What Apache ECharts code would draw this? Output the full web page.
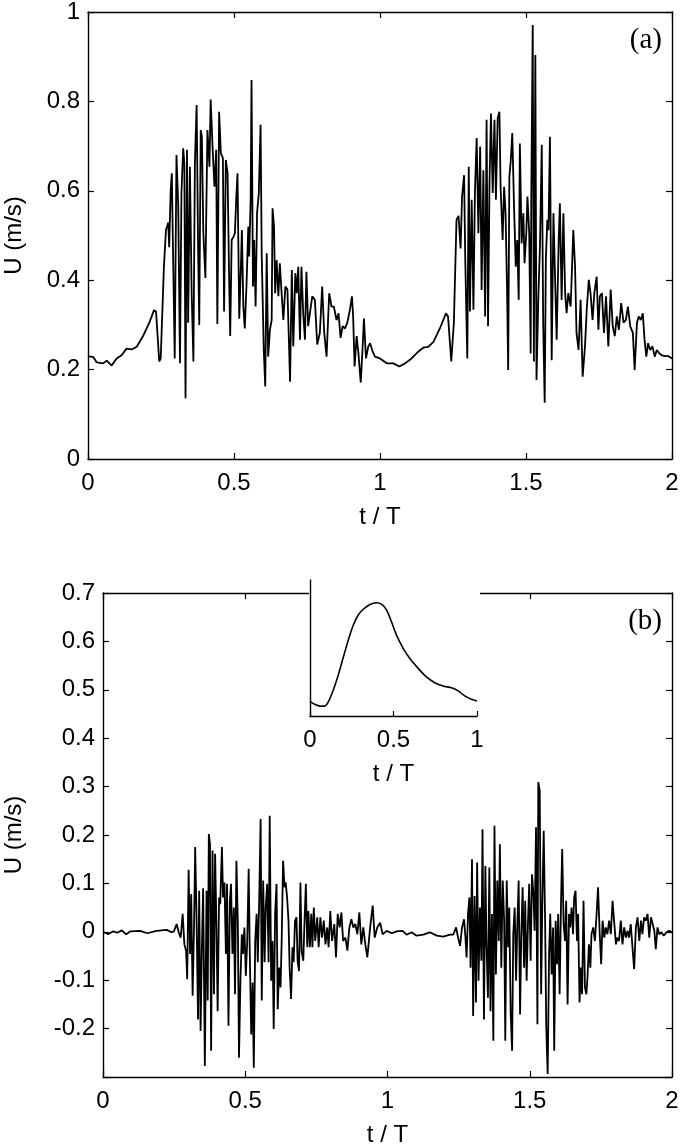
<!DOCTYPE html>
<html>
<head>
<meta charset="utf-8">
<script src="https://cdn.jsdelivr.net/npm/echarts@6/dist/echarts.min.js"></script>
<style>
html,body{margin:0;padding:0;background:#fff;}
#chart{width:680px;height:1148px;}
</style>
</head>
<body>
<div id="chart"></div>
<script>
// ---- data ----
const xTicks = [0, 0.5, 1, 1.5, 2];
const yTicksA = [0, 0.2, 0.4, 0.6, 0.8, 1];
const yTicksB = [-0.3, -0.2, -0.1, 0, 0.1, 0.2, 0.3, 0.4, 0.5, 0.6, 0.7];
const insetTicks = [0, 0.5, 1];

// Panel (a): instantaneous velocity U (m/s) vs t/T
const seriesA = [
[0,.230],[.018,.228],[.030,.216],[.052,.214],[.064,.220],[.081,.209],[.098,.225],[.115,.232],[.132,.247],[.149,.245],
[.167,.251],[.190,.277],[.210,.305],[.226,.333],[.233,.330],[.244,.218],[.249,.225],[.260,.430],[.267,.512],[.275,.529],
[.278,.474],[.283,.598],[.287,.639],[.292,.430],[.297,.225],[.303,.680],[.309,.565],[.315,.214],[.320,.595],[.326,.695],
[.330,.661],[.334,.136],[.339,.692],[.343,.305],[.349,.654],[.355,.371],[.361,.218],[.366,.661],[.372,.792],[.377,.474],
[.381,.300],[.386,.736],[.390,.721],[.395,.505],[.402,.405],[.409,.736],[.416,.654],[.420,.804],[.427,.692],[.433,.609],
[.439,.692],[.443,.302],[.449,.777],[.455,.684],[.462,.673],[.466,.330],[.472,.669],[.478,.639],[.483,.416],[.487,.275],
[.492,.490],[.498,.497],[.503,.505],[.508,.587],[.512,.639],[.518,.314],[.523,.416],[.527,.512],[.532,.341],[.537,.292],
[.543,.393],[.549,.520],[.552,.453],[.557,.580],[.560,.848],[.565,.386],[.569,.490],[.574,.341],[.579,.550],[.585,.595],
[.591,.748],[.595,.453],[.602,.244],[.607,.162],[.612,.460],[.617,.229],[.623,.289],[.629,.311],[.632,.561],[.637,.520],
[.641,.371],[.646,.445],[.652,.364],[.657,.438],[.663,.371],[.669,.311],[.676,.386],[.683,.379],[.692,.173],[.698,.423],
[.703,.252],[.710,.416],[.715,.371],[.720,.430],[.726,.267],[.731,.430],[.737,.326],[.743,.267],[.748,.419],[.754,.297],
[.760,.326],[.768,.364],[.777,.356],[.785,.256],[.794,.282],[.802,.386],[.809,.282],[.817,.229],[.826,.371],[.834,.341],
[.842,.341],[.851,.311],[.858,.326],[.865,.271],[.872,.297],[.880,.292],[.888,.305],[.897,.334],[.904,.364],[.908,.319],
[.913,.207],[.920,.275],[.926,.238],[.934,.171],[.940,.244],[.945,.314],[.952,.225],[.960,.252],[.966,.259],[.972,.262],
[.975,.240],[.983,.229],[1.000,.225],[1.023,.214],[1.046,.214],[1.066,.207],[1.086,.214],[1.108,.225],[1.131,.240],[1.148,.249],
[1.165,.251],[1.183,.262],[1.205,.292],[1.226,.326],[1.233,.319],[1.244,.218],[1.253,.305],[1.262,.535],[1.269,.544],[1.276,.471],
[1.281,.587],[1.288,.635],[1.292,.445],[1.299,.225],[1.304,.654],[1.308,.330],[1.314,.580],[1.320,.334],[1.325,.595],[1.331,.718],
[1.337,.505],[1.343,.699],[1.348,.378],[1.354,.646],[1.360,.319],[1.365,.759],[1.370,.297],[1.375,.617],[1.380,.773],[1.386,.595],
[1.392,.759],[1.397,.580],[1.403,.762],[1.409,.777],[1.413,.609],[1.420,.490],[1.425,.609],[1.430,.550],[1.435,.386],[1.439,.199],
[1.443,.631],[1.448,.669],[1.453,.729],[1.459,.565],[1.465,.430],[1.470,.490],[1.475,.356],[1.479,.706],[1.485,.482],[1.491,.550],
[1.495,.438],[1.501,.505],[1.505,.587],[1.511,.505],[1.516,.236],[1.518,.580],[1.523,.971],[1.527,.218],[1.532,.904],[1.536,.177],
[1.542,.356],[1.548,.482],[1.554,.703],[1.559,.297],[1.564,.126],[1.568,.445],[1.573,.535],[1.577,.512],[1.582,.721],[1.588,.221],
[1.594,.550],[1.600,.393],[1.605,.267],[1.612,.490],[1.616,.572],[1.622,.356],[1.628,.550],[1.634,.371],[1.639,.326],[1.645,.371],
[1.653,.341],[1.662,.512],[1.668,.430],[1.673,.282],[1.680,.244],[1.687,.356],[1.694,.184],[1.702,.252],[1.708,.334],[1.715,.401],
[1.721,.371],[1.728,.311],[1.734,.371],[1.742,.408],[1.748,.289],[1.753,.364],[1.760,.371],[1.767,.282],[1.774,.364],[1.782,.252],
[1.790,.379],[1.797,.297],[1.804,.275],[1.811,.319],[1.818,.289],[1.826,.349],[1.834,.305],[1.842,.311],[1.849,.341],[1.857,.297],
[1.866,.282],[1.872,.199],[1.880,.305],[1.886,.319],[1.893,.311],[1.900,.326],[1.906,.267],[1.912,.229],[1.918,.259],[1.925,.244],
[1.933,.252],[1.941,.229],[1.948,.244],[1.957,.236],[1.965,.232],[1.976,.230],[1.988,.230],[2.000,.225]
];

// Panel (b): fluctuating velocity U (m/s) vs t/T
const seriesB = [
[0,0],[.018,-.005],[.036,.001],[.050,-.002],[.066,.003],[.081,-.005],[.097,.001],[.130,.002],[.156,-.003],[.188,.002],
[.224,.004],[.241,-.001],[.249,.001],[.259,.016],[.266,-.001],[.273,-.012],[.280,.037],[.286,-.026],[.292,-.039],[.296,-.098],
[.301,.128],[.306,-.046],[.310,.078],[.315,-.132],[.320,.009],[.324,.175],[.329,.023],[.334,-.181],[.338,.085],[.343,-.205],
[.348,-.019],[.352,.090],[.358,-.277],[.364,.085],[.368,-.142],[.372,.202],[.376,.181],[.380,-.246],[.385,.168],[.390,-.129],
[.394,.161],[.399,.002],[.403,-.164],[.408,.071],[.412,.057],[.418,.175],[.422,.071],[.427,.102],[.432,-.046],[.436,.099],
[.441,-.194],[.446,.064],[.450,.099],[.455,-.046],[.460,.050],[.464,-.129],[.469,.147],[.474,.016],[.478,-.260],[.483,-.101],
[.488,-.005],[.492,-.046],[.497,.009],[.502,-.091],[.507,-.019],[.512,.130],[.516,-.046],[.521,-.212],[.526,-.105],[.530,-.281],
[.535,-.019],[.540,.037],[.544,-.063],[.549,.064],[.554,.233],[.558,-.142],[.563,.106],[.568,-.063],[.572,.050],[.577,.099],
[.582,-.063],[.586,.240],[.591,-.101],[.596,-.019],[.600,-.201],[.605,.037],[.610,.099],[.614,-.160],[.619,-.074],[.624,-.115],
[.628,-.019],[.633,.147],[.638,.092],[.642,.102],[.647,.071],[.652,.023],[.656,-.074],[.661,-.139],[.666,-.032],[.670,-.063],
[.675,.023],[.680,.030],[.684,-.060],[.689,-.081],[.694,.102],[.698,-.039],[.704,-.060],[.708,.016],[.713,.099],[.718,-.032],
[.722,.043],[.727,-.032],[.732,.037],[.736,-.032],[.741,.050],[.746,-.019],[.753,.030],[.758,-.032],[.764,.030],[.770,-.012],
[.776,.023],[.782,-.026],[.788,.009],[.793,-.032],[.799,.043],[.805,-.019],[.813,.016],[.819,-.053],[.825,.037],[.832,.009],
[.838,.040],[.844,-.019],[.852,-.012],[.859,-.039],[.866,.009],[.873,.026],[.880,.009],[.887,.016],[.894,-.005],[.901,.040],
[.908,-.026],[.915,.009],[.922,-.026],[.929,-.053],[.939,.009],[.948,.054],[.955,-.012],[.964,.009],[.974,.019],[.983,-.005],
[.997,.002],[1.015,-.003],[1.032,.001],[1.053,.002],[1.067,-.006],[1.085,-.001],[1.102,-.008],[1.126,-.006],[1.149,-.001],[1.173,-.008],
[1.196,-.010],[1.220,-.006],[1.231,-.006],[1.241,.009],[1.248,-.012],[1.255,-.029],[1.262,.009],[1.269,.026],[1.274,-.012],[1.278,-.053],
[1.283,.037],[1.288,.071],[1.292,-.074],[1.297,.150],[1.301,-.174],[1.306,.074],[1.311,-.146],[1.315,.143],[1.320,-.101],[1.325,.050],
[1.330,-.060],[1.334,.212],[1.339,-.181],[1.344,.136],[1.348,-.026],[1.353,-.136],[1.358,.133],[1.362,-.164],[1.367,.037],[1.372,-.225],
[1.376,.219],[1.381,-.088],[1.386,.106],[1.391,-.019],[1.395,.181],[1.400,-.074],[1.405,.106],[1.410,.023],[1.414,-.225],[1.419,.106],
[1.424,-.032],[1.428,.050],[1.433,-.171],[1.438,-.246],[1.442,-.005],[1.447,.050],[1.452,-.101],[1.456,.009],[1.461,.106],[1.466,-.171],
[1.470,-.012],[1.475,.092],[1.480,-.074],[1.484,.064],[1.489,-.101],[1.494,.023],[1.498,.099],[1.503,-.060],[1.508,.119],[1.513,.078],
[1.517,.002],[1.522,.216],[1.527,-.191],[1.530,.309],[1.535,.292],[1.540,-.129],[1.544,.050],[1.549,.209],[1.554,.023],[1.558,-.198],
[1.563,-.294],[1.568,-.046],[1.572,.037],[1.577,-.088],[1.582,.009],[1.586,-.246],[1.591,.023],[1.596,-.067],[1.600,.037],[1.605,-.129],
[1.610,.064],[1.614,.171],[1.619,.016],[1.624,-.019],[1.628,.064],[1.633,-.150],[1.638,.037],[1.642,.009],[1.647,.050],[1.652,-.005],
[1.656,.071],[1.661,.085],[1.666,-.019],[1.670,.037],[1.675,-.146],[1.680,-.074],[1.684,-.129],[1.689,.064],[1.694,-.115],[1.699,-.129],
[1.703,-.094],[1.708,-.026],[1.713,-.074],[1.717,-.005],[1.723,.009],[1.729,-.019],[1.735,.037],[1.740,.092],[1.746,-.005],[1.751,-.067],
[1.756,.023],[1.762,-.012],[1.767,.009],[1.773,-.005],[1.779,.023],[1.785,-.005],[1.791,.064],[1.797,.068],[1.803,-.026],[1.808,-.012],
[1.814,-.019],[1.820,.023],[1.826,-.026],[1.832,.009],[1.838,-.012],[1.844,.002],[1.849,-.012],[1.855,.016],[1.861,-.032],[1.867,-.077],
[1.873,.009],[1.879,.030],[1.885,-.019],[1.891,.023],[1.896,-.005],[1.902,.030],[1.908,.023],[1.914,.037],[1.920,-.012],[1.926,.030],
[1.932,.016],[1.938,.002],[1.943,-.036],[1.949,.009],[1.955,-.005],[1.963,-.001],[1.971,-.008],[1.981,-.001],[1.990,.002],[2.000,-.001]
];

// Inset: phase-averaged velocity over one period (no y scale shown)
const insetCurve = [
[0,.243],[.03,.234],[.06,.229],[.086,.229],[.109,.241],[.139,.276],[.169,.320],[.199,.372],[.229,.423],[.259,.467],
[.289,.497],[.319,.514],[.359,.528],[.398,.533],[.428,.529],[.458,.512],[.488,.477],[.518,.438],[.558,.399],[.598,.369],
[.648,.340],[.697,.315],[.747,.298],[.797,.288],[.847,.283],[.887,.274],[.927,.259],[.966,.249],[1.0,.244]
];

// ---- chart ----
const FONT = '"Liberation Sans", Arial, Helvetica, sans-serif';
const SERIF = '"Liberation Serif", "Times New Roman", serif';
const black = '#000';
const lineS = {color: black, width: 1.4};
const tickS = {inside: true, length: 6, lineStyle: {color: black, width: 1.2}};
const lbl = {color: black, fontSize: 24, fontFamily: FONT};

function xBottom(grid, min, max, interval, extra) {
  return Object.assign({
    gridIndex: grid, type: 'value', position: 'bottom', min: min, max: max, interval: interval,
    axisLine: {show: true, onZero: false, lineStyle: lineS},
    axisTick: tickS,
    axisLabel: Object.assign({margin: 12}, lbl),
    splitLine: {show: false},
    name: 't / T', nameLocation: 'middle', nameGap: 46,
    nameTextStyle: {color: black, fontSize: 24, fontFamily: FONT}
  }, extra || {});
}
function xTop(grid, min, max, interval) {
  return {
    gridIndex: grid, type: 'value', position: 'top', min: min, max: max, interval: interval,
    axisLine: {show: true, onZero: false, lineStyle: lineS},
    axisTick: tickS, axisLabel: {show: false}, splitLine: {show: false}
  };
}
function yLeft(grid, min, max, interval, gap, fmt) {
  return {
    gridIndex: grid, type: 'value', position: 'left', min: min, max: max, interval: interval,
    axisLine: {show: true, onZero: false, lineStyle: lineS},
    axisTick: tickS,
    axisLabel: Object.assign({margin: 8, formatter: fmt}, lbl),
    splitLine: {show: false},
    name: 'U (m/s)', nameLocation: 'middle', nameGap: gap, nameRotate: 90,
    nameTextStyle: {color: black, fontSize: 24, fontFamily: FONT}
  };
}
function yRight(grid, min, max, interval) {
  return {
    gridIndex: grid, type: 'value', position: 'right', min: min, max: max, interval: interval,
    axisLine: {show: true, onZero: false, lineStyle: lineS},
    axisTick: tickS, axisLabel: {show: false}, splitLine: {show: false}
  };
}

const chart = echarts.init(document.getElementById('chart'));
chart.setOption({
  animation: false,
  backgroundColor: '#fff',
  title: [
    {text: '(a)', right: 18, top: 26, padding: 0,
     textStyle: {fontFamily: SERIF, fontSize: 29, fontWeight: 'normal', color: black}},
    {text: '(b)', right: 18, top: 607, padding: 0,
     textStyle: {fontFamily: SERIF, fontSize: 29, fontWeight: 'normal', color: black}}
  ],
  grid: [
    {left: 88, top: 12, right: 8, height: 447, outerBoundsMode: 'none', containLabel: false},
    {left: 103, top: 593, right: 8, height: 484, outerBoundsMode: 'none', containLabel: false},
    {left: 310, top: 580, width: 167, height: 136, show: true, backgroundColor: '#fff', borderWidth: 0, z: 5,
     outerBoundsMode: 'none', containLabel: false}
  ],
  graphic: [
    {type: 'rect', shape: {x: 309, y: 586, width: 171, height: 12}, style: {fill: '#fff'}, z: 4}
  ],
  xAxis: [
    xBottom(0, xTicks[0], xTicks[xTicks.length - 1], 0.5),
    xTop(0, xTicks[0], xTicks[xTicks.length - 1], 0.5),
    xBottom(1, xTicks[0], xTicks[xTicks.length - 1], 0.5),
    xTop(1, xTicks[0], xTicks[xTicks.length - 1], 0.5),
    xBottom(2, insetTicks[0], insetTicks[insetTicks.length - 1], 0.5, {z: 6, axisTick: {inside: true, length: 5, lineStyle: {color: black, width: 1.2}}})
  ],
  yAxis: [
    yLeft(0, yTicksA[0], yTicksA[yTicksA.length - 1], 0.2, 62),
    yRight(0, yTicksA[0], yTicksA[yTicksA.length - 1], 0.2),
    yLeft(1, yTicksB[0], yTicksB[yTicksB.length - 1], 0.1, 77, function (v) { return v < -0.25 ? '' : String(Math.round(v * 10) / 10); }),
    yRight(1, yTicksB[0], yTicksB[yTicksB.length - 1], 0.1),
    {gridIndex: 2, type: 'value', min: 0.2, max: 0.6, z: 6,
     axisLine: {show: true, onZero: false, lineStyle: lineS},
     axisTick: {show: false}, axisLabel: {show: false}, splitLine: {show: false}}
  ],
  series: [
    {type: 'line', xAxisIndex: 0, yAxisIndex: 0, data: seriesA, showSymbol: false,
     lineStyle: {color: black, width: 1.8}, z: 2},
    {type: 'line', xAxisIndex: 2, yAxisIndex: 2, data: seriesB, showSymbol: false,
     lineStyle: {color: black, width: 1.8}, z: 2},
    {type: 'line', xAxisIndex: 4, yAxisIndex: 4, data: insetCurve, showSymbol: false, smooth: 0.3,
     lineStyle: {color: black, width: 1.6}, z: 7}
  ]
});
</script>
</body>
</html>
